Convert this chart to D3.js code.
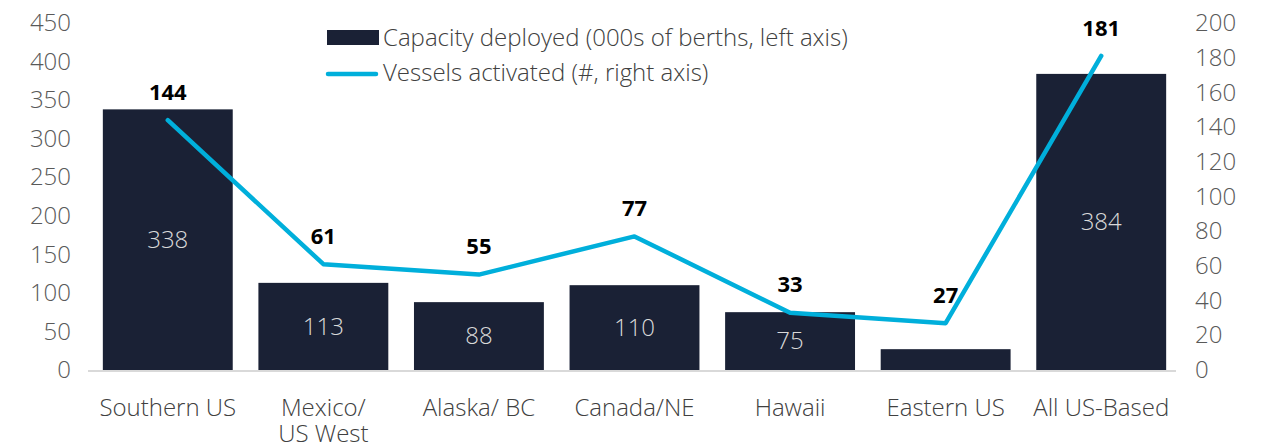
<!DOCTYPE html>
<html>
<head>
<meta charset="utf-8">
<script src="https://cdn.jsdelivr.net/npm/d3@7"></script>
<style>
  body { margin: 0; background: #fff; }
  svg text { font-family: "Open Sans", sans-serif; }
</style>
</head>
<body>
<div class="canvas"></div>
<script>
// data
const categories = ['Southern US', 'Mexico/\nUS West', 'Alaska/ BC', 'Canada/NE', 'Hawaii', 'Eastern US', 'All US-Based'];
const capacity = [338, 113, 88, 110, 75, 27, 384];        // 000s of berths, left axis
const capacityShown = [true, true, true, true, true, false, true];
const vessels = [144, 61, 55, 77, 33, 27, 181];            // #, right axis
const leftTicks = [0, 50, 100, 150, 200, 250, 300, 350, 400, 450];
const rightTicks = [0, 20, 40, 60, 80, 100, 120, 140, 160, 180, 200];
const legendLabels = ['Capacity deployed (000s of berths, left axis)', 'Vessels activated (#, right axis)'];

const W = 1268, H = 444;
const barColor = '#1a2135';
const lineColor = '#00afdb';
const fs = 24;

const svg = d3.select('.canvas').append('svg')
  .attr('width', W).attr('height', H);

const x = d3.scaleBand()
  .domain(categories)
  .range([90, 1179])
  .paddingInner(0.165)
  .paddingOuter(0.0825);

const yL = d3.scaleLinear().domain([0, 450]).range([370, 23]);
const yR = d3.scaleLinear().domain([0, 200]).range([370, 23]);

const rows = categories.map((c, i) => ({cat: c, cap: capacity[i], show: capacityShown[i], ves: vessels[i]}));
const cx = d => x(d.cat) + x.bandwidth() / 2;

// left axis
const axL = svg.append('g')
  .attr('transform', 'translate(71,0)')
  .call(d3.axisLeft(yL).tickValues(leftTicks).tickSize(0).tickPadding(0));
axL.select('.domain').remove();
axL.selectAll('text')
  .attr('font-size', fs).attr('font-weight', 300).attr('fill', '#595959')
  .attr('font-family', '"Open Sans", sans-serif');

// right axis
const axR = svg.append('g')
  .attr('transform', 'translate(1195,0)')
  .call(d3.axisRight(yR).tickValues(rightTicks).tickSize(0).tickPadding(0));
axR.select('.domain').remove();
axR.selectAll('text')
  .attr('font-size', fs).attr('font-weight', 300).attr('fill', '#595959')
  .attr('font-family', '"Open Sans", sans-serif');

// bars
svg.append('g').selectAll('rect')
  .data(rows)
  .enter().append('rect')
  .attr('x', d => x(d.cat))
  .attr('y', d => yL(d.cap))
  .attr('width', x.bandwidth())
  .attr('height', d => yL(0) - yL(d.cap))
  .attr('fill', barColor);

// baseline
svg.append('line')
  .attr('x1', 88).attr('x2', 1176)
  .attr('y1', yL(0) + 1).attr('y2', yL(0) + 1)
  .attr('stroke', '#d9d9d9').attr('stroke-width', 2);

// bar value labels
svg.append('g').selectAll('text')
  .data(rows.filter(d => d.show))
  .enter().append('text')
  .attr('x', cx)
  .attr('y', d => (yL(d.cap) + yL(0)) / 2)
  .attr('dy', '0.35em')
  .attr('text-anchor', 'middle')
  .attr('font-size', fs)
  .attr('font-weight', 300)
  .attr('fill', '#d9d9d9')
  .text(d => d.cap);

// line
const line = d3.line()
  .x(cx)
  .y(d => yR(d.ves));

svg.append('path')
  .datum(rows)
  .attr('d', line)
  .attr('fill', 'none')
  .attr('stroke', lineColor)
  .attr('stroke-width', 4.5)
  .attr('stroke-linejoin', 'round')
  .attr('stroke-linecap', 'round');

// line value labels
svg.append('g').selectAll('text')
  .data(rows)
  .enter().append('text')
  .attr('x', cx)
  .attr('y', d => yR(d.ves) - 28)
  .attr('dy', '0.35em')
  .attr('text-anchor', 'middle')
  .attr('font-size', 22)
  .attr('font-weight', 'bold')
  .attr('fill', '#000')
  .text(d => d.ves);

// category labels
const cat = svg.append('g').selectAll('text')
  .data(rows)
  .enter().append('text')
  .attr('x', cx)
  .attr('y', 416)
  .attr('text-anchor', 'middle')
  .attr('font-size', fs)
  .attr('font-weight', 300)
  .attr('fill', '#404040');
cat.each(function(d) {
  const parts = d.cat.split('\n');
  d3.select(this).selectAll('tspan')
    .data(parts)
    .enter().append('tspan')
    .attr('x', cx(d))
    .attr('dy', (p, j) => j === 0 ? 0 : 26)
    .text(p => p);
});

// legend
const lg = svg.append('g');
lg.append('rect')
  .attr('x', 327).attr('y', 30).attr('width', 52).attr('height', 15)
  .attr('fill', barColor);
lg.append('line')
  .attr('x1', 328).attr('x2', 376).attr('y1', 74).attr('y2', 74)
  .attr('stroke', lineColor).attr('stroke-width', 4.5).attr('stroke-linecap', 'round');
lg.selectAll('text')
  .data(legendLabels)
  .enter().append('text')
  .attr('x', 383)
  .attr('y', (d, i) => 38 + i * 35)
  .attr('dy', '0.35em')
  .attr('font-size', fs)
  .attr('font-weight', 300)
  .attr('fill', '#404040')
  .text(d => d);
</script>
</body>
</html>
